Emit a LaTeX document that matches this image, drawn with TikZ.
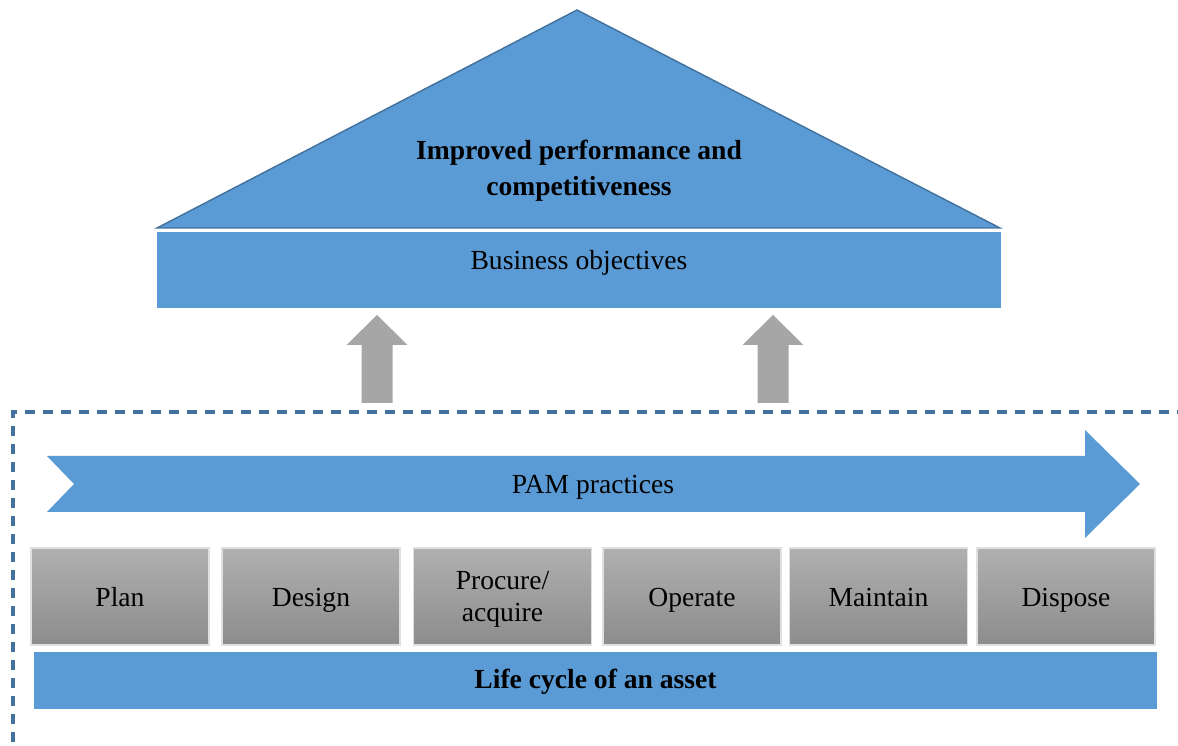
\documentclass[tikz,border=0pt]{standalone}
\usepackage{fontspec}
\setmainfont{Liberation Serif}
\usepackage{xcolor}
\usepackage{tikz}

\definecolor{pamblue}{HTML}{5B9BD5}
\definecolor{pamedge}{HTML}{41719C}
\definecolor{pamgray}{HTML}{A6A6A6}

\begin{document}
\begin{tikzpicture}[
  x=0.02cm, y=-0.02cm,
  every node/.style={inner sep=0pt, font=\fontsize{15.7}{21}\selectfont},
  bluebar/.style={fill=pamblue, minimum width=#1*0.02cm},
  stage/.style={top color=black!31, bottom color=black!45, draw=black!12, line width=0.6pt,
    minimum width=178*0.02cm, minimum height=97*0.02cm, align=center,
    text height=14.3pt, text depth=3pt},
  upshaft/.style={fill=pamgray}
]
\clip (0,0) rectangle (1178,746);

% roof and business objectives
\draw[fill=pamblue, draw=pamedge, line width=0.8pt] (157,228) -- (577,10) -- (1000,228) -- cycle;
\node[align=center, font=\fontsize{15.7}{20.4}\selectfont\bfseries] (goal) at (579,171)
  {Improved performance and\\competitiveness};
\node[bluebar=844, minimum height=76*0.02cm] (business) at (579,270) {};
\node[anchor=base] (busTxt) at (579,270) {Business objectives};

% dashed frame
\draw[pamedge, line width=2pt, dash pattern=on 0.21cm off 0.15cm] (13,760) -- (13,412) -- (1190,412);

% grey arrows up to the objectives
\foreach \x in {377,773}{
  \fill[upshaft] (\x-15.5,403) -- (\x-15.5,345) -- (\x-30.5,345) -- (\x,315)
    -- (\x+30.5,345) -- (\x+15.5,345) -- (\x+15.5,403) -- cycle;
}

% PAM practices arrow
\fill[pamblue] (47,456) -- (1085,456) -- (1085,430) -- (1140,484) -- (1085,538)
  -- (1085,512) -- (47,512) -- (74,484) -- cycle;
\node[anchor=base] (pam) at (593,494) {PAM practices};

% stages of the life cycle
\node[stage] (plan) at (120,596.5) {Plan};
\node[stage] (design) at (311,596.5) {Design};
\node[stage, font=\fontsize{15.7}{18.7}\selectfont, text height=31.9pt] (procure) at (502.5,596.5) {Procure/\\acquire};
\node[stage] (operate) at (692,596.5) {Operate};
\node[stage] (maintain) at (878.5,596.5) {Maintain};
\node[stage] (dispose) at (1066,596.5) {Dispose};

\node[bluebar=1123, minimum height=57*0.02cm, text height=12.6pt, text depth=3pt,
  font=\fontsize{15.7}{21}\selectfont\bfseries] (life) at (595.5,680.5)
  {Life cycle of an asset};
\end{tikzpicture}
\end{document}
